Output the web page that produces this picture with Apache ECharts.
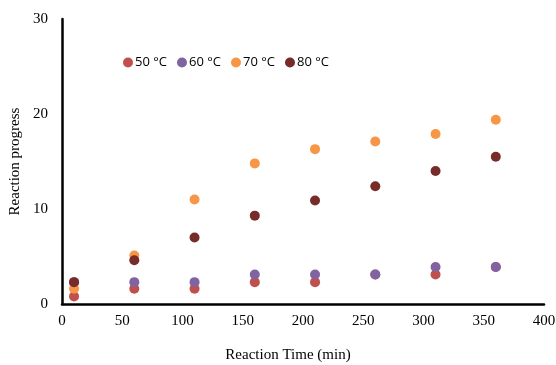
<!DOCTYPE html>
<html>
<head>
<meta charset="utf-8">
<script src="https://cdn.jsdelivr.net/npm/echarts@6/dist/echarts.min.js"></script>
<style>
  html, body { margin: 0; padding: 0; background: #fff; }
  #chart { width: 556px; height: 365px; }
</style>
</head>
<body>
<div id="chart"></div>
<script>
// reaction time (min)
const times = [10, 60, 110, 160, 210, 260, 310, 360];

// reaction progress per temperature
const t50 = [0.8, 1.6, 1.6, 2.3, 2.3, 3.1, 3.1, 3.9];
const t60 = [2.3, 2.3, 2.3, 3.1, 3.1, 3.1, 3.9, 3.9];
const t70 = [1.6, 5.1, 11.0, 14.8, 16.3, 17.1, 17.9, 19.4];
const t80 = [2.3, 4.6, 7.0, 9.3, 10.9, 12.4, 14.0, 15.5];

const seriesNames = ["50 °C", "60 °C", "70 °C", "80 °C"];
const seriesData = [t50, t60, t70, t80];
const colors = ["#C0504D", "#8064A2", "#F79646", "#772C2A"];

const chart = echarts.init(document.getElementById("chart"));

const series = seriesData.map((vals, i) => ({
    name: seriesNames[i],
    type: "scatter",
    symbolSize: 10,
    itemStyle: { color: colors[i], opacity: 1 },
    data: times.map((t, j) => [t, vals[j]])
}));

const axisText = { color: "#000", fontFamily: "Liberation Serif", fontSize: 15 };

chart.setOption({
    animation: false,
    legend: {
        data: seriesNames.map(n => ({ name: n, icon: "circle" })),
        left: 118,
        top: 51,
        itemWidth: 10,
        itemHeight: 10,
        itemGap: 10,
        textStyle: { fontFamily: "Open Sans", fontSize: 13, color: "#000", padding: [0, 0, 0, -3] }
    },
    grid: { left: 62, right: 12, top: 19, bottom: 61, containLabel: false, outerBoundsMode: "none" },
    xAxis: {
        type: "value",
        min: 0,
        max: 400,
        interval: 50,
        name: "Reaction Time (min)",
        nameLocation: "middle",
        nameGap: 44,
        nameTextStyle: Object.assign({ padding: [0, 30, 0, 0] }, axisText),
        axisLine: { show: true, lineStyle: { color: "#000", width: 2.5 } },
        axisTick: { show: false },
        axisLabel: Object.assign({ margin: 10 }, axisText),
        splitLine: { show: false }
    },
    yAxis: {
        type: "value",
        min: 0,
        max: 30,
        interval: 10,
        name: "Reaction progress",
        nameLocation: "middle",
        nameGap: 37,
        nameTextStyle: axisText,
        axisLine: { show: true, lineStyle: { color: "#000", width: 2.5 } },
        axisTick: { show: false },
        axisLabel: Object.assign({ margin: 14 }, axisText),
        splitLine: { show: false }
    },
    series
});
</script>
</body>
</html>
